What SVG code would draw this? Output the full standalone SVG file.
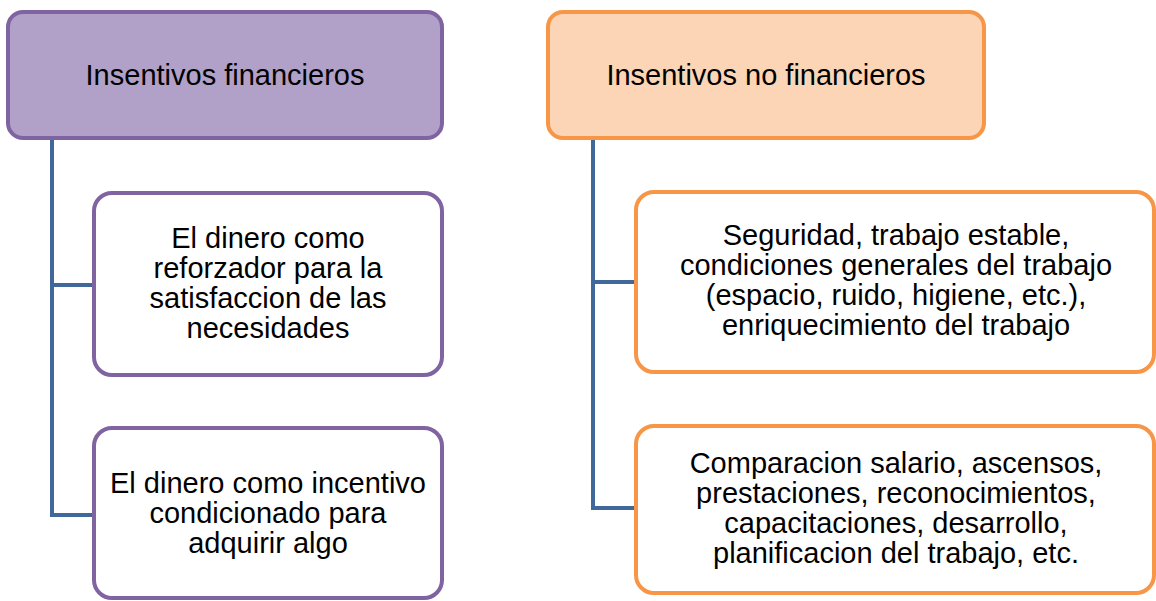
<svg xmlns="http://www.w3.org/2000/svg" width="1156" height="601" viewBox="0 0 1156 601">
<style>
.t{font-family:"Liberation Sans",Arial,sans-serif;font-size:29px;fill:#000;text-anchor:middle}
.pH{fill:#B1A0C7;stroke:#8064A2;stroke-width:4}
.pC{fill:#FFFFFF;stroke:#8064A2;stroke-width:4}
.oH{fill:#FBD5B5;stroke:#F79646;stroke-width:4}
.oC{fill:#FFFFFF;stroke:#F79646;stroke-width:4}
.c{fill:none;stroke:#41689A;stroke-width:4;stroke-linejoin:miter}
</style>
<rect width="1156" height="601" fill="#FFFFFF"/>
<g id="connectors">
<path class="c" d="M52,139 V517 M52,285 H93 M52,515 H93"/>
<path class="c" d="M593,139 V510 M593,282 H636 M593,508 H636"/>
</g>
<g id="n-fin">
<rect class="pH" x="8" y="12" width="434" height="126" rx="15"/>
<text class="t" x="225" y="85">Insentivos financieros</text>
</g>
<g id="n-fin-1">
<rect class="pC" x="94" y="193" width="348" height="182" rx="18"/>
<text class="t" x="268" y="248">El dinero como</text>
<text class="t" x="268" y="278">reforzador para la</text>
<text class="t" x="268" y="308">satisfaccion de las</text>
<text class="t" x="268" y="338">necesidades</text>
</g>
<g id="n-fin-2">
<rect class="pC" x="94" y="428" width="348" height="170" rx="18"/>
<text class="t" x="268" y="493">El dinero como incentivo</text>
<text class="t" x="268" y="523">condicionado para</text>
<text class="t" x="268" y="553">adquirir algo</text>
</g>
<g id="n-nofin">
<rect class="oH" x="548" y="12" width="436" height="126" rx="15"/>
<text class="t" x="766" y="85">Insentivos no financieros</text>
</g>
<g id="n-nofin-1">
<rect class="oC" x="636" y="192" width="518" height="180" rx="18"/>
<text class="t" x="896" y="245">Seguridad, trabajo estable,</text>
<text class="t" x="896" y="275">condiciones generales del trabajo</text>
<text class="t" x="896" y="305">(espacio, ruido, higiene, etc.),</text>
<text class="t" x="896" y="335">enriquecimiento del trabajo</text>
</g>
<g id="n-nofin-2">
<rect class="oC" x="636" y="426" width="518" height="167" rx="18"/>
<text class="t" x="896" y="473">Comparacion salario, ascensos,</text>
<text class="t" x="896" y="503">prestaciones, reconocimientos,</text>
<text class="t" x="896" y="533">capacitaciones, desarrollo,</text>
<text class="t" x="896" y="563">planificacion del trabajo, etc.</text>
</g>
</svg>
